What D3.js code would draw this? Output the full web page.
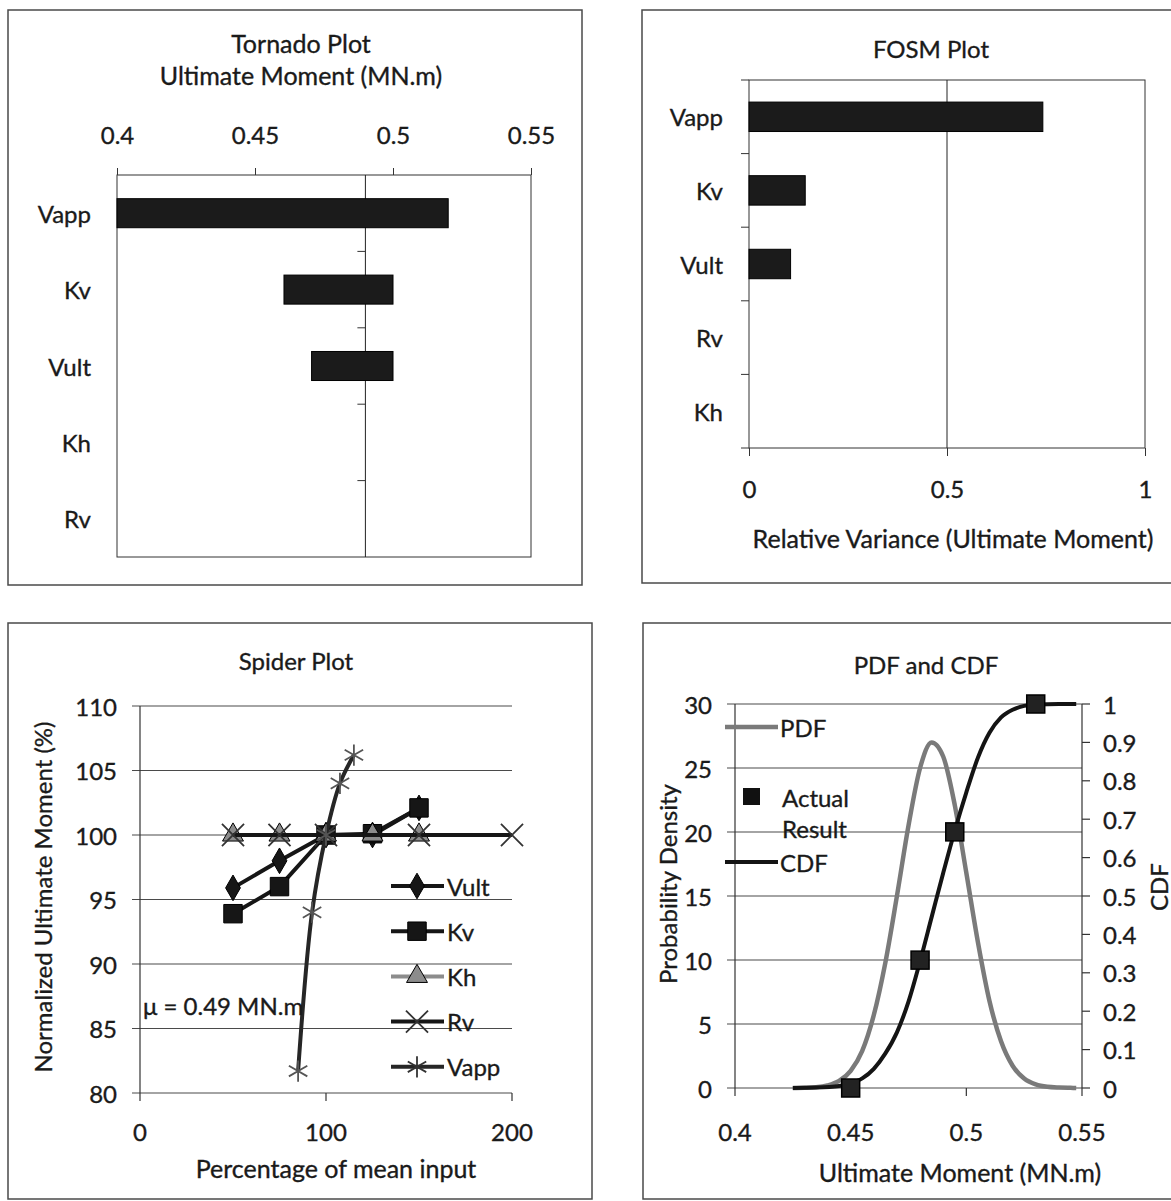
<!DOCTYPE html>
<html>
<head>
<meta charset="utf-8">
<script src="https://cdn.jsdelivr.net/npm/d3@7"></script>
<style>
body { margin: 0; background: #fff; }
svg text { font-family: Lato, "Open Sans", sans-serif; fill: #1a1a1a; stroke: #1a1a1a; stroke-width: 0.35px; }
</style>
</head>
<body>
<script>
// ---- tornado plot data
var tornadoCats = ['Vapp', 'Kv', 'Vult', 'Kh', 'Rv'];
var tornadoLow = [0.400, 0.4605, 0.4705, 0.49, 0.49];
var tornadoHigh = [0.520, 0.500, 0.500, 0.49, 0.49];
var tornadoMean = 0.49;
var tornadoTicks = [0.4, 0.45, 0.5, 0.55];

// ---- FOSM data
var fosmCats = ['Vapp', 'Kv', 'Vult', 'Rv', 'Kh'];
var fosmVals = [0.742, 0.142, 0.105, 0, 0];
var fosmTicks = [0, 0.5, 1];

// ---- spider plot data
var spiderNames = ['Vult', 'Kv', 'Kh', 'Rv', 'Vapp'];
var vultX = [50, 75, 100, 125, 150];
var vultY = [95.9, 98.0, 100, 100, 102.1];
var kvX = [50, 75, 100, 125, 150];
var kvY = [93.9, 96.0, 100, 100.1, 102.1];
var khX = [50, 75, 100, 125, 150];
var khY = [100, 100, 100, 100, 100];
var rvX = [50, 75, 100, 150, 200];
var rvY = [100, 100, 100, 100, 100];
var vappX = [85, 92.5, 100, 107.5, 115];
var vappY = [81.7, 94.0, 100, 104.0, 106.2];
var spiderXTicks = [0, 100, 200];
var spiderYTicks = [80, 85, 90, 95, 100, 105, 110];

// ---- PDF / CDF data
var pdfX = [0.425, 0.43, 0.435, 0.44, 0.445, 0.45, 0.455, 0.46, 0.465, 0.47, 0.475, 0.48, 0.485,
            0.49, 0.495, 0.5, 0.505, 0.51, 0.515, 0.52, 0.525, 0.53, 0.535, 0.54, 0.545, 0.5475];
var pdfY = [0.005, 0.02, 0.06, 0.2, 0.55, 1.34, 2.9, 5.7, 9.8, 15.0, 20.5, 25.0, 27.0,
            25.9, 22.1, 16.8, 11.4, 6.8, 3.65, 1.74, 0.74, 0.28, 0.09, 0.03, 0.01, 0.004];
var cdfX = [0.425, 0.435, 0.445, 0.45, 0.455, 0.46, 0.465, 0.47, 0.475, 0.48, 0.485, 0.49,
            0.495, 0.5, 0.505, 0.51, 0.515, 0.52, 0.525, 0.53, 0.54, 0.5475];
var cdfY = [0, 0.001, 0.005, 0.012, 0.025, 0.05, 0.09, 0.145, 0.225, 0.33, 0.445, 0.56,
            0.67, 0.77, 0.86, 0.925, 0.965, 0.985, 0.995, 0.999, 1, 1];
var actualX = [0.45, 0.48, 0.495, 0.53];
var actualCdf = [0, 0.333, 0.667, 1];
var pdfXTicks = [0.4, 0.45, 0.5, 0.55];
var pdfYTicks = [0, 5, 10, 15, 20, 25, 30];
var cdfTicks = [0, 0.1, 0.2, 0.3, 0.4, 0.5, 0.6, 0.7, 0.8, 0.9, 1];

var W = 1171, H = 1201;
var fs = 24;
var ink = '#1a1a1a';

var svg = d3.select('body').append('svg')
  .attr('width', W)
  .attr('height', H);

svg.append('rect').attr('width', W).attr('height', H).attr('fill', '#fff');

function frame(x0, y0, x1, y1) {
  svg.append('rect')
    .attr('x', x0).attr('y', y0)
    .attr('width', x1 - x0).attr('height', y1 - y0)
    .attr('fill', 'none')
    .attr('stroke', '#4a4a4a')
    .attr('stroke-width', 1.5);
}

function text(g, x, y, s, anchor, rot, size) {
  var t = g.append('text')
    .attr('x', x).attr('y', y)
    .attr('text-anchor', anchor || 'middle')
    .attr('dominant-baseline', 'central')
    .attr('font-size', size || fs)
    .text(s);
  if (rot) t.attr('transform', 'rotate(' + rot + ',' + x + ',' + y + ')');
  return t;
}

function hline(g, x0, x1, y, col, w) {
  g.append('line').attr('x1', x0).attr('x2', x1).attr('y1', y).attr('y2', y)
    .attr('stroke', col || '#333').attr('stroke-width', w || 1);
}
function vline(g, x, y0, y1, col, w) {
  g.append('line').attr('x1', x).attr('x2', x).attr('y1', y0).attr('y2', y1)
    .attr('stroke', col || '#333').attr('stroke-width', w || 1);
}

function styleAxis(a) {
  a.select('.domain').remove();
  a.selectAll('.tick line').attr('stroke', '#333');
  a.selectAll('.tick text')
    .attr('font-size', fs)
    .attr('font-family', 'Lato, sans-serif')
    .attr('fill', ink);
}

// ================= Tornado =================
function drawTornado() {
  frame(8, 10, 582, 585);
  var g = svg.append('g');
  var x = d3.scaleLinear().domain([0.4, 0.55]).range([117, 531]);
  var y = d3.scaleBand().domain(tornadoCats).range([175, 557])
    .paddingInner(0.62).paddingOuter(0.31);
  var step = (557 - 175) / tornadoCats.length;

  g.append('rect').attr('x', 117).attr('y', 175).attr('width', 531 - 117).attr('height', 557 - 175)
    .attr('fill', 'none').attr('stroke', '#333').attr('stroke-width', 1);

  var ax = g.append('g').attr('transform', 'translate(0,175)')
    .call(d3.axisTop(x).tickValues(tornadoTicks).tickSize(7).tickPadding(24)
      .tickFormat(function(d) { return String(d); }));
  styleAxis(ax);

  var xm = x(tornadoMean);
  vline(g, xm, 175, 557, '#222', 1);
  for (var i = 1; i < tornadoCats.length; i++) {
    hline(g, xm - 8, xm, 175 + i * step, '#333', 1);
  }

  g.selectAll('rect.bar')
    .data(tornadoCats)
    .enter().append('rect')
    .attr('class', 'bar')
    .attr('x', function(d, i) { return x(tornadoLow[i]); })
    .attr('width', function(d, i) { return x(tornadoHigh[i]) - x(tornadoLow[i]); })
    .attr('y', function(d) { return y(d); })
    .attr('height', y.bandwidth())
    .attr('fill', '#1b1b1b')
    .attr('stroke', '#000')
    .attr('stroke-width', 1);

  tornadoCats.forEach(function(c) {
    text(g, 91, y(c) + y.bandwidth() / 2, c, 'end');
  });

  text(g, 301, 43, 'Tornado Plot', 'middle', 0, 25);
  text(g, 301, 75, 'Ultimate Moment (MN.m)', 'middle', 0, 25);
}

// ================= FOSM =================
function drawFosm() {
  frame(642, 10, 1190, 583);
  var g = svg.append('g');
  var x = d3.scaleLinear().domain([0, 1]).range([749, 1145]);
  var y = d3.scaleBand().domain(fosmCats).range([80, 448])
    .paddingInner(0.6).paddingOuter(0.3);
  var step = (448 - 80) / fosmCats.length;

  g.append('rect').attr('x', 749).attr('y', 80).attr('width', 1145 - 749).attr('height', 448 - 80)
    .attr('fill', 'none').attr('stroke', '#333').attr('stroke-width', 1);
  vline(g, x(0.5), 80, 448, '#222', 1);

  var ax = g.append('g').attr('transform', 'translate(0,448)')
    .call(d3.axisBottom(x).tickValues(fosmTicks).tickSize(8).tickPadding(25)
      .tickFormat(function(d) { return String(d); }));
  styleAxis(ax);

  for (var i = 0; i <= fosmCats.length; i++) {
    hline(g, 741, 749, 80 + i * step, '#333', 1);
  }

  g.selectAll('rect.bar')
    .data(fosmCats)
    .enter().append('rect')
    .attr('class', 'bar')
    .attr('x', x(0))
    .attr('width', function(d, i) { return x(fosmVals[i]) - x(0); })
    .attr('y', function(d) { return y(d); })
    .attr('height', y.bandwidth())
    .attr('fill', '#1b1b1b')
    .attr('stroke', '#000')
    .attr('stroke-width', 1);

  fosmCats.forEach(function(c) {
    text(g, 723, y(c) + y.bandwidth() / 2, c, 'end');
  });

  text(g, 931, 48, 'FOSM Plot');
  text(g, 953, 538, 'Relative Variance (Ultimate Moment)', 'middle', 0, 25);
}

// ================= Spider =================
function drawSpider() {
  frame(8, 623, 592, 1199);
  var g = svg.append('g');
  var x = d3.scaleLinear().domain([0, 200]).range([140, 512]);
  var y = d3.scaleLinear().domain([80, 110]).range([1093, 706]);

  spiderYTicks.forEach(function(v) {
    hline(g, 132, 512, y(v), '#4a4a4a', 1.2);
    text(g, 117, y(v), String(v), 'end');
  });
  vline(g, 140, 706, 1093, '#333', 1.2);
  spiderXTicks.forEach(function(v) {
    vline(g, x(v), 1093, 1101, '#333', 1.2);
    text(g, x(v), 1131, String(v));
  });

  var series = [
    {name: 'Vult', xs: vultX, ys: vultY, col: '#161616', sym: d3.symbolDiamond, size: 190, fill: true},
    {name: 'Kv', xs: kvX, ys: kvY, col: '#161616', sym: d3.symbolSquare, size: 340, fill: true},
    {name: 'Kh', xs: khX, ys: khY, col: '#8c8c8c', sym: d3.symbolTriangle, size: 190, fill: true},
    {name: 'Rv', xs: rvX, ys: rvY, col: '#161616', sym: d3.symbolTimes, size: 320, fill: false},
    {name: 'Vapp', xs: vappX, ys: vappY, col: '#262626', sym: d3.symbolAsterisk, size: 320, fill: false, smooth: true}
  ];

  series.forEach(function(s) {
    var pts = s.xs.map(function(v, i) { return [v, s.ys[i]]; });
    var line = d3.line()
      .x(function(d) { return x(d[0]); })
      .y(function(d) { return y(d[1]); })
      .curve(s.smooth ? d3.curveCatmullRom : d3.curveLinear);
    g.append('path').datum(pts)
      .attr('d', line)
      .attr('fill', 'none')
      .attr('stroke', s.col)
      .attr('stroke-width', 4)
      .attr('stroke-linejoin', 'round');
    g.selectAll(null).data(pts).enter().append('path')
      .attr('transform', function(d) { return 'translate(' + x(d[0]) + ',' + y(d[1]) + ')'; })
      .attr('d', d3.symbol().type(s.sym).size(s.size))
      .attr('fill', s.fill ? s.col : 'none')
      .attr('stroke', s.fill ? '#000' : (s.name == 'Vapp' ? '#555' : '#333'))
      .attr('stroke-width', s.fill ? 1 : 1.8);
  });

  // legend
  series.forEach(function(s, i) {
    var ly = 886 + i * 45.2;
    hline(g, 391, 444, ly, s.col, 4);
    g.append('path')
      .attr('transform', 'translate(417,' + ly + ')')
      .attr('d', d3.symbol().type(s.sym).size(s.size))
      .attr('fill', s.fill ? s.col : 'none')
      .attr('stroke', s.fill ? '#000' : '#333')
      .attr('stroke-width', s.fill ? 1 : 1.8);
    text(g, 447, ly, s.name, 'start');
  });

  text(g, 143, 1005, '\u03bc = 0.49 MN.m', 'start');
  text(g, 296, 660, 'Spider Plot');
  text(g, 42, 897, 'Normalized Ultimate Moment (%)', 'middle', -90);
  text(g, 336, 1168, 'Percentage of mean input', 'middle', 0, 25);
}

// ================= PDF & CDF =================
function drawPdf() {
  frame(643, 623, 1190, 1199);
  var g = svg.append('g');
  var x = d3.scaleLinear().domain([0.4, 0.55]).range([735, 1082]);
  var yL = d3.scaleLinear().domain([0, 30]).range([1088, 704]);
  var yR = d3.scaleLinear().domain([0, 1]).range([1088, 704]);

  pdfYTicks.forEach(function(v) {
    hline(g, 727, 1082, yL(v), '#4a4a4a', 1.2);
    text(g, 712, yL(v), String(v), 'end');
  });
  vline(g, 735, 704, 1088, '#333', 1.2);
  vline(g, 1082, 704, 1088, '#333', 1.2);
  cdfTicks.forEach(function(v) {
    hline(g, 1082, 1090, yR(v), '#333', 1.2);
    text(g, 1103, yR(v), String(v), 'start');
  });
  pdfXTicks.forEach(function(v) {
    vline(g, x(v), 1088, 1096, '#333', 1.2);
    text(g, x(v), 1131, String(v));
  });

  var pdfLine = d3.line()
    .x(function(d, i) { return x(pdfX[i]); })
    .y(function(d) { return yL(d); })
    .curve(d3.curveMonotoneX);
  g.append('path').datum(pdfY)
    .attr('d', pdfLine)
    .attr('fill', 'none').attr('stroke', '#7a7a7a').attr('stroke-width', 4.5);

  var cdfLine = d3.line()
    .x(function(d, i) { return x(cdfX[i]); })
    .y(function(d) { return yR(d); })
    .curve(d3.curveMonotoneX);
  g.append('path').datum(cdfY)
    .attr('d', cdfLine)
    .attr('fill', 'none').attr('stroke', '#141414').attr('stroke-width', 4);

  g.selectAll('rect.act')
    .data(actualX)
    .enter().append('rect')
    .attr('class', 'act')
    .attr('x', function(d) { return x(d) - 9; })
    .attr('y', function(d, i) { return yR(actualCdf[i]) - 9; })
    .attr('width', 18).attr('height', 18)
    .attr('fill', '#222').attr('stroke', '#000').attr('stroke-width', 1.5);

  // legend
  hline(g, 725, 778, 727, '#7a7a7a', 4.5);
  text(g, 780, 727, 'PDF', 'start');
  g.append('rect').attr('x', 743).attr('y', 788).attr('width', 17).attr('height', 17).attr('fill', '#111');
  text(g, 782, 797, 'Actual', 'start');
  text(g, 782, 828, 'Result', 'start');
  hline(g, 725, 778, 862, '#141414', 4);
  text(g, 780, 862, 'CDF', 'start');

  text(g, 926, 664, 'PDF and CDF');
  text(g, 667, 884, 'Probability Density', 'middle', -90);
  text(g, 1158, 887, 'CDF', 'middle', -90);
  text(g, 960, 1172, 'Ultimate Moment (MN.m)', 'middle', 0, 25);
}

drawTornado();
drawFosm();
drawSpider();
drawPdf();
</script>
</body>
</html>
